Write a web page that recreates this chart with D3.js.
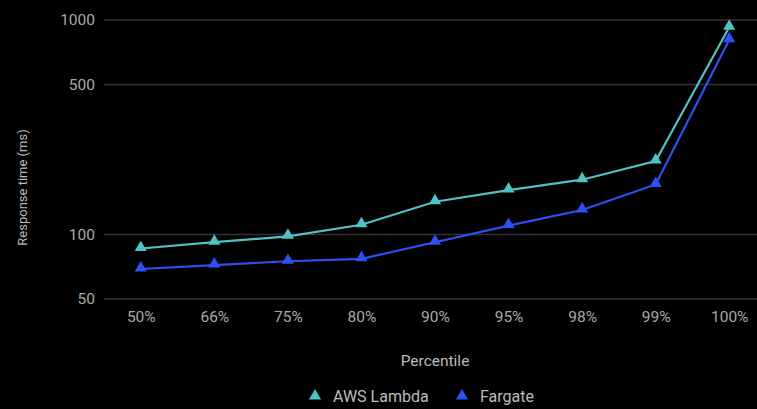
<!DOCTYPE html>
<html>
<head>
  <meta charset="utf-8">
  <script src="https://cdnjs.cloudflare.com/ajax/libs/d3/7.8.5/d3.min.js"></script>
  <title>Response time by percentile</title>
  <style>
    html, body { margin: 0; padding: 0; background: #000; }
    body { font: 13px Roboto, Arial, sans-serif; }
    .grid line { stroke: #333; stroke-width: 1.5; }
    .tick text { fill: #aaa; font-size: 15.5px; }
    .title { fill: #bbb; font-size: 13px; }
  </style>
</head>
<body>
<script>
// percentile categories and response times (ms)
var percentiles = ["50%", "66%", "75%", "80%", "90%", "95%", "98%", "99%", "100%"];
var lambda = [86, 92, 98, 111, 142, 161, 180, 220, 925];
var fargate = [69, 72, 75, 77, 92, 110, 130, 171, 808];
var yTicks = [50, 100, 500, 1000];

var seriesNames = ["AWS Lambda", "Fargate"];
var colors = ["#4ec3c7", "#2f4ff2"];

var W = 757, H = 409;
var margin = { top: 20, right: -9, bottom: 110, left: 104 };
var width = W - margin.left - margin.right,
    height = H - margin.top - margin.bottom;

var svg = d3.select("body").append("svg")
    .attr("width", W)
    .attr("height", H);

var x = d3.scalePoint()
    .domain(percentiles)
    .range([margin.left, margin.left + width])
    .padding(0.5);

var y = d3.scaleLog()
    .domain([50, 1000])
    .range([margin.top + height, margin.top]);

// gridlines
svg.append("g").attr("class", "grid")
  .selectAll("line")
  .data(yTicks)
  .enter().append("line")
    .attr("x1", margin.left)
    .attr("x2", W)
    .attr("y1", d => y(d))
    .attr("y2", d => y(d));

// y axis labels
var yAxis = d3.axisLeft(y).tickValues(yTicks).tickFormat(d3.format("d")).tickSize(0).tickPadding(9);
svg.append("g")
    .attr("transform", "translate(" + margin.left + ",0)")
    .call(yAxis)
    .call(g => g.select(".domain").remove());

// x axis labels
var xAxis = d3.axisBottom(x).tickSize(0).tickPadding(12);
svg.append("g")
    .attr("transform", "translate(0," + (margin.top + height) + ")")
    .call(xAxis)
    .call(g => g.select(".domain").remove());

svg.selectAll(".tick text").attr("font-family", "Roboto, Arial, sans-serif");

// axis titles
svg.append("text")
    .attr("class", "title")
    .attr("transform", "translate(27," + (margin.top + height / 2 + 28) + ") rotate(-90)")
    .attr("text-anchor", "middle")
    .text("Response time (ms)");

svg.append("text")
    .attr("class", "title")
    .attr("x", 435)
    .attr("y", 366)
    .attr("text-anchor", "middle")
    .style("font-size", "15.5px")
    .text("Percentile");

var line = d3.line()
    .x((d, i) => x(percentiles[i]))
    .y(d => y(d));

var tri = d3.symbol().type(d3.symbolTriangle).size(64);

[lambda, fargate].forEach(function(vals, k) {
  svg.append("path")
      .datum(vals)
      .attr("fill", "none")
      .attr("stroke", colors[k])
      .attr("stroke-width", 2.2)
      .attr("d", line);

  svg.append("g").selectAll("path")
    .data(vals)
    .enter().append("path")
      .attr("d", tri)
      .attr("fill", colors[k])
      .attr("transform", (d, i) => "translate(" + x(percentiles[i]) + "," + (y(d) - 1) + ")");
});

// legend
var legendX = [315, 462];
var legend = svg.append("g");
seriesNames.forEach(function(name, k) {
  legend.append("path")
      .attr("d", tri)
      .attr("fill", colors[k])
      .attr("transform", "translate(" + legendX[k] + ",396)");
  legend.append("text")
      .attr("class", "title")
      .attr("x", legendX[k] + 18)
      .attr("y", 402)
      .style("font-size", "16px")
      .text(name);
});
</script>
</body>
</html>
